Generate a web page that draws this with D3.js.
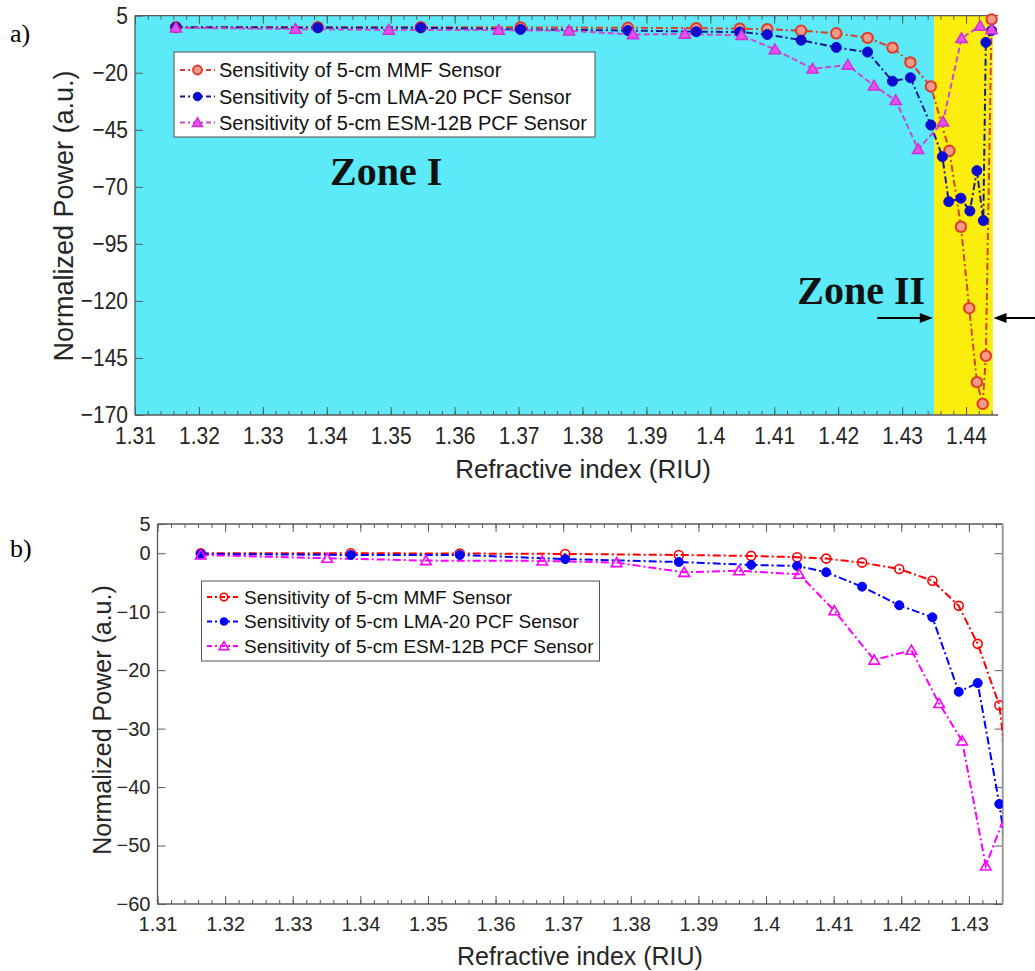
<!DOCTYPE html>
<html><head><meta charset="utf-8">
<script src="https://cdn.jsdelivr.net/npm/d3@7"></script>
<style>
body{margin:0;background:#fff}
svg{display:block}
</style>
</head><body>
<svg id="c" width="1035" height="971"></svg>
<script>
// ---------------- DATA ----------------
const seriesNames = [
  "Sensitivity of 5-cm MMF Sensor",
  "Sensitivity of 5-cm LMA-20 PCF Sensor",
  "Sensitivity of 5-cm ESM-12B PCF Sensor"
];
// MMF sensor
const mmfX = [1.3164, 1.3386, 1.3547, 1.3703, 1.3871, 1.3978, 1.4046, 1.4089, 1.4142, 1.4197, 1.4246, 1.4285, 1.4313, 1.4345, 1.4374, 1.4392, 1.4405, 1.4417, 1.4426, 1.4431, 1.4440];
const mmfY = [0, 0, -0.05, -0.12, -0.3, -0.46, -0.68, -0.92, -1.6, -2.7, -4.7, -9.0, -15.5, -26.0, -54.2, -87.5, -123.2, -155.6, -165.1, -144.1, 3.4];
// LMA-20 PCF sensor
const lmaX = [1.3164, 1.3386, 1.3547, 1.3703, 1.3871, 1.3978, 1.4046, 1.4089, 1.4142, 1.4197, 1.4246, 1.4285, 1.4313, 1.4345, 1.4363, 1.4373, 1.4392, 1.4406, 1.4417, 1.4427, 1.4431, 1.4440];
const lmaY = [-0.1, -0.3, -0.3, -1.0, -1.5, -2.0, -2.17, -3.25, -5.72, -8.9, -10.96, -23.7, -22.2, -42.9, -56.8, -76.5, -75.0, -80.6, -62.9, -84.8, -6.7, -1.5];
// ESM-12B PCF sensor
const esmX = [1.3164, 1.3351, 1.3497, 1.3669, 1.3779, 1.3879, 1.3960, 1.4049, 1.4101, 1.4160, 1.4215, 1.4256, 1.4290, 1.4325, 1.4364, 1.4393, 1.4422, 1.4440];
const esmY = [-0.3, -0.86, -1.26, -1.31, -1.6, -3.26, -3.0, -3.6, -9.83, -18.27, -16.6, -25.7, -32.1, -53.5, -41.5, -4.9, 0.5, -1.0];

const topXTicks = [1.31,1.32,1.33,1.34,1.35,1.36,1.37,1.38,1.39,1.40,1.41,1.42,1.43,1.44];
const botXTicks = [1.31,1.32,1.33,1.34,1.35,1.36,1.37,1.38,1.39,1.40,1.41,1.42,1.43];
const topYTicks = [5,-20,-45,-70,-95,-120,-145,-170];
const botYTicks = [5,0,-10,-20,-30,-40,-50,-60];
const zoneI = [1.31, 1.435];
const zoneII = [1.435, 1.4442];
const xLabel = "Refractive index (RIU)";
const yLabel = "Normalized Power (a.u.)";

// ---------------- DRAW ----------------
const svg = d3.select("#c");
const SANS = "'Liberation Sans', Arial, Helvetica, sans-serif";
const SERIF = "'Liberation Serif', 'Times New Roman', serif";
const fmt = d3.format(".2~f");
const AX = "#5a5a5a", TXT = "#262626";

const series = [
  {xs: mmfX, ys: mmfY, name: seriesNames[0], key: "mmf"},
  {xs: lmaX, ys: lmaY, name: seriesNames[1], key: "lma"},
  {xs: esmX, ys: esmY, name: seriesNames[2], key: "esm"}
];
const styles = {
  top: {
    mmf: {line: "#d8402c", dash: "7,3,2,3", mk: "circle", r: 5.2, stroke: "#e23a28", fill: "#f39a88", sw: 2},
    lma: {line: "#1a1a96", dash: "7,3,2,3", mk: "dot", r: 5, stroke: "#0c0cd0", fill: "#0c0cd0", sw: 1},
    esm: {line: "#c84ad0", dash: "6,3", mk: "tri", r: 55, stroke: "#d030d8", fill: "#e850ea", sw: 1.5}
  },
  bot: {
    mmf: {line: "#ff0000", dash: "8,3,2,3", mk: "circle", r: 4.5, stroke: "#ff0000", fill: "none", sw: 1.6},
    lma: {line: "#0000ff", dash: "8,3,2,3", mk: "dot", r: 4.5, stroke: "#0000ff", fill: "#0000ff", sw: 1},
    esm: {line: "#ff00ff", dash: "8,3,2,3", mk: "tri", r: 48, stroke: "#ff00ff", fill: "none", sw: 1.6}
  }
};

function drawMarker(g, st, cx, cy) {
  if (st.mk === "tri") {
    g.append("path").attr("d", d3.symbol(d3.symbolTriangle, st.r)())
      .attr("transform", `translate(${cx},${cy + 1})`)
      .attr("fill", st.fill).attr("stroke", st.stroke).attr("stroke-width", st.sw);
  } else {
    g.append("circle").attr("cx", cx).attr("cy", cy).attr("r", st.r)
      .attr("fill", st.fill).attr("stroke", st.stroke).attr("stroke-width", st.sw);
  }
}

function panel(cfg) {
  const x = d3.scaleLinear().domain(cfg.xDom).range([cfg.x0, cfg.x1]);
  const y = d3.scaleLinear().domain(cfg.yDom).range([cfg.y1, cfg.y0]);
  const g = svg.append("g");
  const clipId = "clip-" + cfg.id;
  svg.append("defs").append("clipPath").attr("id", clipId)
    .append("rect").attr("x", cfg.x0).attr("y", cfg.y0)
    .attr("width", cfg.x1 - cfg.x0).attr("height", cfg.y1 - cfg.y0);

  if (cfg.zones) {
    g.append("rect").attr("x", x(zoneI[0])).attr("y", cfg.y0)
      .attr("width", x(zoneI[1]) - x(zoneI[0])).attr("height", cfg.y1 - cfg.y0)
      .attr("fill", "#5ce9f8");
    g.append("rect").attr("x", x(zoneII[0])).attr("y", cfg.y0)
      .attr("width", x(zoneII[1]) - x(zoneII[0])).attr("height", cfg.y1 - cfg.y0)
      .attr("fill", "#fcee0c");
  }

  // minor ticks
  const minor = d3.range(0, Math.round((cfg.xDom[1] - cfg.xDom[0]) / 0.002) + 1)
    .map(i => +(cfg.xDom[0] + i * 0.002).toFixed(4))
    .filter(v => v <= cfg.xDom[1] + 1e-9);
  const styleAxis = sel => {
    sel.select(".domain").remove();
    sel.selectAll("line").attr("stroke", AX).attr("stroke-width", 1);
    sel.selectAll("text").attr("fill", TXT);
    sel.attr("font-family", SANS);
  };
  const stretch = sel => {
    if (cfg.stretch !== 1) sel.selectAll("text").attr("transform", `scale(1,${cfg.stretch})`);
  };
  g.append("g").attr("transform", `translate(0,${cfg.y1})`)
    .call(d3.axisBottom(x).tickValues(minor).tickSize(-4).tickFormat(""))
    .call(styleAxis);
  g.append("g").attr("transform", `translate(0,${cfg.y0})`)
    .call(d3.axisTop(x).tickValues(minor).tickSize(-4).tickFormat(""))
    .call(styleAxis);
  g.append("g").attr("transform", `translate(0,${cfg.y1})`)
    .call(d3.axisBottom(x).tickValues(cfg.xTicks).tickSize(-8).tickPadding(cfg.xPad).tickFormat(fmt))
    .call(styleAxis).call(stretch).attr("font-size", cfg.tickFont);
  g.append("g").attr("transform", `translate(0,${cfg.y0})`)
    .call(d3.axisTop(x).tickValues(cfg.xTicks).tickSize(-8).tickFormat(""))
    .call(styleAxis);
  const yAx = g.append("g").attr("transform", `translate(${cfg.x0},0)`)
    .call(d3.axisLeft(y).tickValues(cfg.yTicks).tickSize(-8).tickPadding(7))
    .call(styleAxis).attr("font-size", cfg.tickFont);
  if (cfg.stretch !== 1) {
    // stretch each y label vertically about its own tick
    yAx.selectAll(".tick text").attr("transform", `scale(1,${cfg.stretch})`);
  }
  if (cfg.box) {
    g.append("g").attr("transform", `translate(${cfg.x1},0)`)
      .call(d3.axisRight(y).tickValues(cfg.yTicks).tickSize(-8).tickFormat(""))
      .call(styleAxis);
  }
  // frame
  const fr = g.append("g").attr("stroke", AX).attr("stroke-width", 1.3).attr("fill", "none");
  fr.append("line").attr("x1", cfg.x0).attr("x2", cfg.x0).attr("y1", cfg.y0).attr("y2", cfg.y1);
  fr.append("line").attr("x1", cfg.x0).attr("x2", cfg.x1).attr("y1", cfg.y1).attr("y2", cfg.y1);
  fr.append("line").attr("x1", cfg.x0).attr("x2", cfg.x1).attr("y1", cfg.y0).attr("y2", cfg.y0);
  if (cfg.box) fr.append("line").attr("x1", cfg.x1).attr("x2", cfg.x1).attr("y1", cfg.y0).attr("y2", cfg.y1)
    .attr("stroke", "#9a9a9a").attr("stroke-width", 2);

  // series
  const line = d3.line().x(d => x(d[0])).y(d => y(d[1]));
  const sty = styles[cfg.style];
  const plotG = g.append("g");
  if (cfg.clipAll) plotG.attr("clip-path", `url(#${clipId})`);
  series.forEach(s => {
    const st = sty[s.key];
    const pts = s.xs.map((v, i) => [v, s.ys[i]]);
    plotG.append("path").datum(pts).attr("d", line)
      .attr("fill", "none").attr("stroke", st.line).attr("stroke-width", 2)
      .attr("stroke-dasharray", st.dash)
      .attr("clip-path", `url(#${clipId})`);
  });
  series.forEach(s => {
    const st = sty[s.key];
    s.xs.forEach((v, i) => {
      if (v <= cfg.xDom[1]) drawMarker(plotG, st, x(v), y(s.ys[i]));
    });
  });

  // legend
  const L = cfg.legend;
  const lg = g.append("g");
  lg.append("rect").attr("x", L.x).attr("y", L.y).attr("width", L.w).attr("height", L.h)
    .attr("fill", "#fff").attr("stroke", "#555").attr("stroke-width", 1);
  series.forEach((s, i) => {
    const st = sty[s.key];
    const cy = L.rows[i];
    lg.append("line").attr("x1", L.lx0).attr("x2", L.lx1).attr("y1", cy).attr("y2", cy)
      .attr("stroke", st.line).attr("stroke-width", 2).attr("stroke-dasharray", "5,3,2,3");
    drawMarker(lg, Object.assign({}, st, {r: st.mk === "tri" ? st.r * 0.8 : st.r * 0.85}), (L.lx0 + L.lx1) / 2, cy);
    lg.append("text").attr("x", L.tx).attr("y", cy).attr("dy", "0.36em")
      .attr("font-family", SANS).attr("font-size", L.font).attr("fill", "#111").text(s.name);
  });

  // axis titles
  g.append("text").attr("x", cfg.xt[0]).attr("y", cfg.xt[1]).attr("text-anchor", "middle")
    .attr("font-family", SANS).attr("font-size", cfg.titleFont).attr("fill", TXT).text(xLabel);
  g.append("text").attr("transform", `translate(${cfg.yt[0]},${cfg.yt[1]}) rotate(-90)`)
    .attr("text-anchor", "middle").attr("dy", "0.35em")
    .attr("font-family", SANS).attr("font-size", cfg.yTitleFont).attr("fill", TXT).text(yLabel);
  // panel letter
  g.append("text").attr("x", 10).attr("y", cfg.letterY).attr("font-family", SERIF)
    .attr("font-size", 26).attr("fill", "#000").text(cfg.letter);
  return {x, y, g};
}

const topP = panel({
  id: "a", x0: 135, x1: 998, y0: 15.7, y1: 415, xDom: [1.31, 1.445], yDom: [-170, 5],
  xTicks: topXTicks, yTicks: topYTicks, tickFont: 21, titleFont: 26, yTitleFont: 27, style: "top",
  stretch: 1.18, xPad: 10,
  zones: true, box: false, clipAll: false,
  legend: {x: 174, y: 52, w: 421, h: 85, rows: [70, 96.5, 122.5], lx0: 180, lx1: 215, tx: 219, font: 20},
  xt: [583, 478], yt: [64, 216], letter: "a)", letterY: 42
});
const botP = panel({
  id: "b", x0: 157.5, x1: 1002.7, y0: 524, y1: 904, xDom: [1.31, 1.435], yDom: [-60, 5],
  xTicks: botXTicks, yTicks: botYTicks, tickFont: 20, titleFont: 25, yTitleFont: 25, style: "bot",
  stretch: 1, xPad: 13,
  zones: false, box: true, clipAll: true,
  legend: {x: 201.5, y: 581, w: 398, h: 80, rows: [597, 621.5, 646], lx0: 207, lx1: 241, tx: 244, font: 19},
  xt: [580, 965], yt: [102, 720], letter: "b)", letterY: 557
});

// Zone annotations (top panel)
const tx = topP.x, ty = topP.y;
topP.g.append("text").attr("x", tx(1.3405)).attr("y", ty(-69.2))
  .attr("font-family", SERIF).attr("font-weight", "bold").attr("font-size", 40).attr("fill", "#111").text("Zone I");
topP.g.append("text").attr("x", tx(1.4136)).attr("y", ty(-121.3))
  .attr("font-family", SERIF).attr("font-weight", "bold").attr("font-size", 40).attr("fill", "#111").text("Zone II");
function arrow(xa, xb, yv) {
  const x1 = tx(xa), x2 = tx(xb), yy = ty(yv);
  const dir = Math.sign(x2 - x1);
  topP.g.append("line").attr("x1", x1).attr("x2", x2 - dir * 10).attr("y1", yy).attr("y2", yy)
    .attr("stroke", "#000").attr("stroke-width", 2);
  topP.g.append("path").attr("d", `M${x2},${yy} L${x2 - dir * 13},${yy - 5} L${x2 - dir * 13},${yy + 5} Z`).attr("fill", "#000");
}
arrow(1.4261, 1.4348, -127.5);
arrow(1.4510, 1.4443, -127.5);
</script>
</body></html>
